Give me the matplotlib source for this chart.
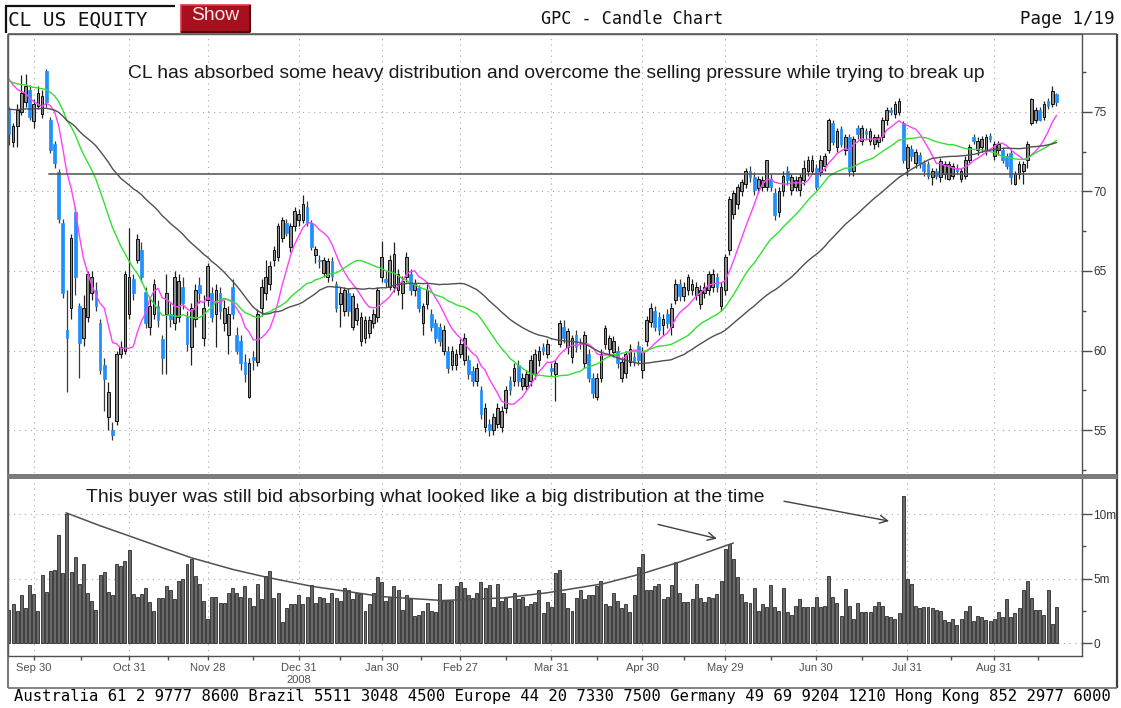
import numpy as np
import pandas as pd
import matplotlib
matplotlib.use("Agg")
import matplotlib.pyplot as plt
from matplotlib.lines import Line2D
from matplotlib.patches import Rectangle

# ---------------- data ----------------
opens = [75.1,73.1,74.1,75.0,75.6,76.4,74.4,75.4,74.9,77.6,
         74.5,73.0,71.2,68.0,61.3,62.7,68.7,62.8,60.8,62.1,
         63.6,63.8,61.7,59.1,55.8,55.0,55.6,59.8,60.0,62.3,
         64.5,65.7,66.3,63.7,61.5,62.3,62.8,60.7,62.3,62.3,
         61.7,62.1,64.0,62.1,60.2,62.0,64.1,60.8,63.2,63.6,
         62.3,63.6,61.7,61.0,64.0,61.0,60.6,59.3,57.1,59.6,
         59.3,62.7,63.6,64.2,65.7,65.9,67.1,68.0,66.5,67.8,
         68.2,68.2,69.0,68.0,66.0,65.7,64.9,64.6,65.6,64.2,
         62.9,62.5,63.6,61.5,61.9,60.6,60.8,61.1,61.7,62.1,
         64.6,64.5,64.0,64.0,63.8,63.6,64.6,64.8,63.8,63.9,
         61.7,62.9,62.3,61.7,61.5,60.0,60.0,59.1,59.1,59.8,
         59.4,59.4,58.7,58.1,57.5,55.2,55.4,55.0,55.4,55.2,
         56.4,58.1,58.1,59.1,57.8,57.8,58.1,58.5,59.4,60.2,
         59.8,58.9,58.5,60.4,61.5,60.2,59.6,61.0,60.5,59.2,
         59.8,58.3,57.1,58.3,60.4,60.1,59.9,60.0,58.3,58.6,
         59.3,59.6,60.3,58.8,60.6,61.8,62.5,62.1,61.6,62.3,
         61.5,63.2,64.2,63.4,63.8,63.8,63.5,62.9,63.6,63.8,
         64.0,64.6,62.8,63.8,66.3,68.6,69.2,70.0,70.5,71.3,
         70.9,70.2,70.3,70.3,70.8,69.9,68.7,70.0,71.3,70.1,
         70.3,70.1,70.7,71.3,71.3,71.5,71.2,71.6,72.6,74.3,
         72.8,73.9,72.6,73.4,71.3,74.0,73.2,73.8,73.2,73.0,
         73.1,73.4,74.5,75.1,74.9,75.0,74.3,71.5,72.7,71.8,
         72.3,71.8,71.7,70.9,71.3,70.9,71.1,70.8,71.0,71.5,
         70.8,71.0,72.0,73.4,72.6,72.8,72.6,73.5,72.2,72.6,
         72.6,72.2,72.4,70.5,71.1,71.3,72.0,74.3,74.5,75.1,
         74.7,75.7,75.5,76.1]

highs = [75.3,74.3,75.5,77.3,77.4,76.7,75.8,76.6,76.4,77.7,
         74.7,73.2,71.4,68.3,63.8,67.3,69.0,63.0,63.5,65.0,
         65.0,64.3,62.0,59.5,58.0,55.5,60.0,60.6,65.0,67.7,
         64.8,67.3,66.8,64.0,63.3,64.5,63.2,61.0,64.8,63.0,
         65.0,64.8,64.6,62.5,63.0,64.2,64.6,63.5,65.5,64.0,
         64.2,64.0,63.2,62.8,64.5,61.5,61.0,59.8,59.5,60.0,
         62.6,64.5,65.7,65.6,66.6,68.0,68.4,68.3,68.0,69.0,
         68.9,69.8,69.4,68.2,66.6,66.0,65.9,65.8,65.9,64.4,
         64.0,64.0,63.9,63.6,63.0,62.4,62.2,62.2,62.6,64.0,
         66.9,65.0,66.0,66.8,65.1,64.7,66.2,65.1,64.5,64.1,
         63.0,64.2,62.6,62.0,61.7,61.6,60.3,60.3,60.1,60.7,
         61.1,59.7,59.0,59.2,57.8,56.7,55.7,56.1,56.7,56.5,
         57.8,58.4,59.2,59.4,58.6,58.8,59.7,60.1,60.3,60.5,
         60.7,59.2,59.4,61.9,61.9,61.4,61.0,61.3,60.8,61.2,
         60.1,58.6,58.6,60.1,61.6,61.0,60.9,60.3,59.6,60.0,
         60.4,59.9,60.6,60.2,62.2,63.0,62.8,62.4,62.3,62.6,
         63.0,64.5,64.5,64.3,64.8,64.5,64.3,64.1,64.3,65.0,
         65.1,64.9,64.3,66.1,69.7,70.1,70.5,70.8,71.5,71.6,
         71.2,71.0,71.0,72.0,71.1,70.2,70.3,71.3,71.6,71.1,
         71.0,71.1,72.0,72.2,72.3,71.7,72.3,72.4,74.6,74.5,
         74.0,74.1,73.6,73.6,73.5,74.2,74.2,74.0,74.0,73.6,
         73.6,74.7,75.3,75.3,75.7,75.9,74.4,73.0,72.9,72.7,
         72.5,72.0,71.9,71.5,71.5,72.1,71.9,71.9,71.8,71.7,
         71.5,72.2,73.0,73.6,73.4,73.5,73.6,73.7,73.2,73.2,
         72.8,72.4,72.6,71.3,71.9,71.9,73.2,75.9,75.3,75.3,
         75.7,75.9,76.6,76.2]

lows = [72.9,72.8,72.8,74.8,75.3,74.5,74.0,75.2,74.6,75.3,
        72.4,71.5,68.0,63.3,57.4,62.0,63.5,58.3,60.3,61.8,
        63.2,62.5,58.5,56.2,55.0,54.4,55.3,59.5,59.8,62.0,
        63.2,65.5,64.3,61.4,61.0,62.0,61.5,58.5,58.5,61.5,
        61.3,61.8,62.6,60.0,59.1,61.5,63.0,60.3,62.8,61.8,
        60.2,62.0,61.2,59.8,62.0,59.8,58.8,58.0,57.0,58.8,
        59.0,62.2,63.2,63.8,65.3,65.6,66.8,67.2,66.2,67.5,
        67.8,68.0,67.8,66.3,65.5,65.2,64.6,64.3,64.4,62.4,
        61.5,62.2,62.2,61.3,61.6,60.3,60.5,60.8,61.4,61.8,
        64.3,64.0,63.8,63.7,63.5,62.6,64.3,63.5,63.4,62.4,
        61.0,62.6,61.2,60.5,60.3,59.7,58.6,58.8,58.8,59.5,
        59.1,58.2,57.8,57.8,55.7,54.9,54.6,54.7,55.1,54.9,
        56.1,57.2,57.8,57.8,57.5,57.5,57.8,58.2,59.0,59.7,
        59.5,58.4,56.8,60.2,60.5,59.8,59.2,59.9,60.1,58.9,
        58.0,57.0,56.9,58.0,60.1,59.8,59.6,58.9,58.0,58.3,
        59.0,59.0,59.1,58.3,60.3,61.5,61.2,61.0,61.0,61.4,
        61.0,62.9,63.1,63.1,63.5,63.5,63.2,62.6,63.3,63.5,
        63.7,63.7,62.5,63.5,66.0,68.3,68.9,69.7,70.2,70.6,
        69.8,69.9,70.0,70.0,70.0,68.2,68.4,69.7,70.4,69.8,
        70.0,69.7,70.4,71.0,71.1,70.1,71.0,71.3,72.4,72.9,
        72.5,72.8,72.3,71.0,71.0,73.3,72.9,73.3,72.9,72.7,
        72.8,73.2,74.2,74.8,74.6,74.8,71.8,71.0,71.9,71.5,
        71.5,71.0,70.8,70.4,70.8,70.6,70.8,70.7,70.8,71.1,
        70.6,70.8,71.8,73.0,72.3,72.5,72.3,73.1,72.0,72.3,
        71.8,71.4,70.5,70.4,70.8,70.5,71.5,74.2,74.3,74.4,
        74.5,75.2,75.3,75.4]

closes = [73.6,74.1,75.1,76.2,76.6,74.7,75.5,76.2,76.0,75.6,
          72.6,71.8,68.3,63.6,60.8,67.1,64.6,60.5,62.7,64.8,
          64.6,62.8,58.8,58.2,57.4,54.7,59.8,60.2,64.8,64.6,
          63.6,67.0,64.6,61.7,62.8,64.2,61.9,59.5,63.6,62.0,
          64.6,64.4,63.0,60.4,62.7,63.8,63.6,62.7,65.3,62.1,
          63.8,62.5,62.7,62.3,62.3,60.0,59.2,58.5,59.2,59.4,
          62.3,64.0,64.6,65.3,66.3,67.8,68.2,67.4,67.8,68.8,
          68.6,69.2,68.0,66.5,66.4,65.6,65.7,65.6,64.7,62.7,
          63.6,63.8,62.5,63.4,62.7,62.1,61.9,61.9,62.3,63.8,
          65.9,64.3,65.7,66.1,64.8,64.4,65.9,63.8,64.2,62.7,
          62.8,63.8,61.5,60.8,60.6,61.3,58.9,60.0,59.8,60.4,
          60.8,58.5,58.1,58.9,56.0,56.4,55.0,55.8,56.4,56.2,
          57.5,57.5,58.9,58.1,58.3,58.5,59.4,59.8,60.0,60.0,
          60.4,58.7,59.2,61.7,60.8,61.2,60.8,60.2,60.4,61.0,
          58.3,57.3,58.3,59.8,61.4,60.8,60.6,59.2,59.3,59.8,
          60.1,59.3,59.4,60.0,61.9,62.7,61.5,61.3,62.0,61.7,
          62.7,64.2,63.4,64.0,64.6,64.2,64.0,63.8,64.0,64.8,
          64.8,64.0,64.0,65.9,69.5,69.9,70.3,70.6,71.3,70.9,
          70.1,70.8,70.7,72.0,70.3,68.5,70.0,71.0,70.7,70.9,
          70.7,70.9,71.5,72.0,72.0,70.3,72.0,72.2,74.5,73.1,
          73.8,73.0,73.4,71.3,73.3,73.6,74.0,73.6,73.8,73.4,
          73.4,74.5,75.1,75.0,75.5,75.7,72.0,72.8,72.2,72.5,
          71.8,71.3,71.0,71.3,71.0,71.9,71.7,71.7,71.6,71.3,
          71.3,72.0,72.8,73.2,73.2,73.3,73.4,73.3,73.0,73.0,
          72.0,71.6,70.9,71.1,71.7,71.7,73.0,75.8,75.1,74.5,
          75.5,75.4,76.3,75.6]

volume_m = [2.6,3.0,2.5,3.7,2.7,4.5,3.8,2.5,5.3,4.0,
            5.6,5.7,8.4,5.4,10.0,5.5,6.7,4.6,6.1,3.9,
            3.3,2.6,5.3,5.5,4.0,3.7,6.1,6.0,6.4,7.2,
            3.8,3.6,3.8,4.3,3.2,2.5,3.5,3.5,4.4,4.1,
            3.4,4.8,5.0,6.1,6.5,5.2,4.6,3.3,1.9,3.6,
            3.6,3.1,3.1,3.9,4.3,3.9,3.6,4.4,3.5,2.9,
            4.6,3.4,5.2,5.6,3.5,3.9,
            1.6,2.7,3.0,3.0,3.7,3.0,3.6,4.5,3.1,3.6,
            3.5,3.1,3.9,3.5,3.3,4.3,4.1,3.4,3.9,3.8,
            2.5,3.0,3.9,5.1,4.7,3.3,3.6,4.4,4.1,2.6,
            3.7,3.4,2.1,2.2,2.5,3.1,2.5,2.4,4.6,3.3,
            3.3,3.3,4.4,4.7,4.3,3.7,3.5,3.9,4.7,4.3,
            4.5,2.8,4.6,3.3,3.5,2.7,3.9,3.4,3.6,2.9,
            3.0,3.2,4.1,2.3,3.2,
            2.8,5.4,5.7,3.9,2.7,2.5,3.5,4.1,3.4,3.7,
            3.7,4.4,4.8,3.0,2.9,3.9,3.3,2.7,3.0,2.4,
            3.7,5.9,6.9,4.1,4.1,4.4,4.6,3.4,3.6,4.5,
            6.3,3.9,3.2,3.2,3.4,4.6,3.5,3.2,3.6,3.5,
            3.8,4.8,7.3,7.7,6.5,5.1,3.8,3.2,3.1,4.3,
            2.5,3.0,2.8,4.5,2.8,2.5,4.3,2.4,2.2,2.9,
            3.4,2.8,2.8,2.8,
            3.6,2.8,2.9,5.2,3.6,3.1,2.1,4.2,2.9,1.9,
            3.1,2.4,2.4,2.4,2.9,3.2,2.9,2.1,2.0,1.9,
            2.3,11.4,5.0,4.6,2.9,2.7,2.8,2.8,2.7,2.6,
            2.5,1.8,1.6,1.9,1.4,1.9,2.5,2.9,1.7,2.1,
            2.0,1.8,1.7,1.9,2.4,2.0,3.4,2.0,2.3,2.7,
            4.1,4.8,3.5,2.6,2.6,2.2,4.1,1.5,2.8]

month_labels = ["Sep 30", "Oct 31", "Nov 28", "Dec 31", "Jan 30", "Feb 27",
                "Mar 31", "Apr 30", "May 29", "Jun 30", "Jul 31", "Aug 31"]
month_bar = [6, 29, 48, 70, 90, 109, 131, 153, 173, 195, 217, 238]
price_ticks = [55, 60, 65, 70, 75]
volume_ticks = [0, 5, 10]
volume_tick_labels = ["0", "5m", "10m"]
ma_windows = [9, 25, 50]
ma_start = [77.5, 77.1, 75.2]     # level of each average where the chart begins
support_level = 71.1
# hand-drawn arc over the volume peaks (bar index, volume in millions)
arc_bar = [13.8, 22, 30, 37, 44.2, 54.2, 62.3, 73.2, 90.3, 104.8, 119.3, 130, 143.5, 153.1, 162.1, 174.9]
arc_vol = [10.1, 9.1, 8.2, 7.4, 6.6, 5.7, 5.1, 4.4, 3.6, 3.3, 3.5, 3.9, 4.6, 5.4, 6.3, 7.75]
arrows = [((156.8, 9.2), (171.0, 8.1)), ((187.2, 11.0), (212.6, 9.46))]

top_note = "CL has absorbed some heavy distribution and overcome the selling pressure while trying to break up"
vol_note = "This buyer was still bid absorbing what looked like a big distribution at the time"
footer = "Australia 61 2 9777 8600 Brazil 5511 3048 4500 Europe 44 20 7330 7500 Germany 49 69 9204 1210 Hong Kong 852 2977 6000"

# ---------------- figure ----------------
W, H = 1121, 708
fig = plt.figure(figsize=(W / 100, H / 100), dpi=100)
fig.patch.set_facecolor("white")

def fx(x):
    return x / W

def fy(y):
    return 1 - y / H

def hline(x0, x1, y, color, lw):
    fig.add_artist(Line2D([fx(x0), fx(x1)], [fy(y), fy(y)], transform=fig.transFigure,
                          color=color, lw=lw, solid_capstyle="butt"))

def vline(x, y0, y1, color, lw):
    fig.add_artist(Line2D([fx(x), fx(x)], [fy(y0), fy(y1)], transform=fig.transFigure,
                          color=color, lw=lw, solid_capstyle="butt"))

n = len(closes)
idx = np.arange(n)
o = np.array(opens); c = np.array(closes); h = np.array(highs); l = np.array(lows)
vol = np.array(volume_m)

xmin, xmax = -0.24, 259.2

ax = fig.add_axes([fx(8), fy(473), fx(1082) - fx(8), fy(34) - fy(473)])
axv = fig.add_axes([fx(8), fy(656), fx(1082) - fx(8), fy(478) - fy(656)])

grid_kw = dict(color="#a8a8a8", lw=0.8, linestyle=(0, (1, 4)))
for a in (ax, axv):
    a.set_xlim(xmin, xmax)
    a.set_facecolor("white")
    for s in a.spines.values():
        s.set_color("#505050")
        s.set_linewidth(1.0)
    for mb in month_bar:
        a.axvline(mb, zorder=0, **grid_kw)
ax.spines["bottom"].set_visible(False)
axv.spines["top"].set_visible(False)

# ---- price panel ----
ax.set_ylim(52.3, 79.9)
for p in price_ticks:
    ax.axhline(p, zorder=0, **grid_kw)

up = c >= o
wick_col = np.where(up, "#202020", "#3a3a3a")
ax.vlines(idx, l, h, colors=wick_col, lw=0.9, zorder=2)
body_lo = np.minimum(o, c)
body_h = np.maximum(np.abs(c - o), 0.08)
ax.bar(idx[up], body_h[up], bottom=body_lo[up], width=0.66, color="#8e8e8e",
       edgecolor="#101010", linewidth=0.7, zorder=3)
ax.bar(idx[~up], body_h[~up], bottom=body_lo[~up], width=0.66, color="#1e90ff",
       edgecolor="#1e90ff", linewidth=0.5, zorder=3)

def moving_average(vals, w, start):
    sums = pd.Series(vals).rolling(w, min_periods=1).sum().to_numpy()
    have = np.minimum(np.arange(1, len(vals) + 1), w)
    return (sums + (w - have) * start) / w

ma_colors = ["#ff40ff", "#33e033", "#505050"]
for wnd, st, col in zip(ma_windows, ma_start, ma_colors):
    ax.plot(idx, moving_average(closes, wnd, st), color=col, lw=1.0, zorder=4)

ax.plot([9.7, xmax], [support_level, support_level], color="#505050", lw=1.1, zorder=4)

ax.yaxis.tick_right()
ax.set_yticks(price_ticks)
ax.set_yticks([52.5, 57.5, 62.5, 67.5, 72.5, 77.5], minor=True)
ax.tick_params(axis="y", which="major", direction="out", length=7, width=1, color="#505050",
               labelsize=8.5, labelcolor="#333333", pad=1)
ax.tick_params(axis="y", which="minor", direction="out", length=3, width=1, color="#505050")
ax.set_xticks([])
for t in ax.get_yticklabels():
    t.set_fontfamily("Liberation Sans")

# ---- volume panel ----
axv.set_ylim(-1.0, 12.8)
for v in volume_ticks:
    axv.axhline(v, zorder=0, **grid_kw)
axv.bar(idx, vol, width=0.72, color="#6a6a6a", edgecolor="#101010", linewidth=0.5, zorder=2)
axv.plot(arc_bar, arc_vol, color="#505050", lw=1.1, zorder=3)
for (x0, y0), (x1, y1) in arrows:
    axv.annotate("", xy=(x1, y1), xytext=(x0, y0),
                 arrowprops=dict(arrowstyle="->", color="#404040", lw=1.0,
                                 mutation_scale=14, shrinkA=0, shrinkB=0), zorder=4)
axv.yaxis.tick_right()
axv.set_yticks(volume_ticks)
axv.set_yticklabels(volume_tick_labels)
axv.set_yticks([2.5, 7.5], minor=True)
axv.tick_params(axis="y", which="major", direction="out", length=7, width=1, color="#505050",
                labelsize=8.5, labelcolor="#333333", pad=1)
axv.tick_params(axis="y", which="minor", direction="out", length=3, width=1, color="#505050")
axv.set_xticks(month_bar)
axv.set_xticklabels(month_labels)
mids = [(a + b) / 2 for a, b in zip(month_bar[:-1], month_bar[1:])] + [248.5]
axv.set_xticks(mids, minor=True)
axv.tick_params(axis="x", which="both", direction="out", length=3, width=1, color="#505050",
                labelsize=8, labelcolor="#505050", pad=2)
for t in axv.get_xticklabels() + axv.get_yticklabels():
    t.set_fontfamily("Liberation Sans")
axv.text(70, -0.135, "2008", transform=axv.get_xaxis_transform(), ha="center", va="center",
         fontsize=8, color="#505050", family="Liberation Sans")

# ---- frame ----
hline(8, 1117, 34, "#606060", 1.2)
vline(8, 34, 688, "#606060", 1.2)
vline(1117, 34, 688, "#404040", 1.6)
hline(8, 1117, 688, "#707070", 1.2)
hline(8, 1117, 475.5, "#7c7c7c", 3.6)

# ---- texts ----
fig.canvas.draw()
renderer = fig.canvas.get_renderer()

def fit(t, target_w):
    for _ in range(2):
        w = t.get_window_extent(renderer).width
        t.set_fontsize(t.get_fontsize() * target_w / w)

t1 = fig.text(fx(128), fy(74), top_note, ha="left", va="center", fontsize=12.5,
              family="Liberation Sans", color="#1a1a1a")
fit(t1, 850)
t2 = fig.text(fx(86), fy(497), vol_note, ha="left", va="center", fontsize=12.5,
              family="Liberation Sans", color="#1a1a1a")
fit(t2, 677)

# header
fig.add_artist(Rectangle((fx(5), fy(33)), fx(175) - fx(5), fy(5) - fy(33), transform=fig.transFigure,
                         facecolor="white", edgecolor="none"))
hline(5, 175, 5.5, "#101010", 1.6)
vline(5.5, 5, 33, "#101010", 1.6)
th = fig.text(fx(8), fy(20), "CL US EQUITY", ha="left", va="center", fontsize=14,
              family="DejaVu Sans Mono", color="#111111")
fit(th, 140)
fig.add_artist(Rectangle((fx(181), fy(32)), fx(250) - fx(181), fy(5) - fy(32), transform=fig.transFigure,
                         facecolor="#a8101e", edgecolor="#e03a48", lw=1.2))
hline(181, 250, 32, "#5a0008", 1.5)
vline(250, 5, 32, "#5a0008", 1.5)
ts = fig.text(fx(215.5), fy(16), "Show", ha="center", va="center", fontsize=13,
              family="Liberation Sans", color="#f4e8e8")
fit(ts, 48)
tg = fig.text(fx(632), fy(19), "GPC - Candle Chart", ha="center", va="center", fontsize=12,
              family="DejaVu Sans Mono", color="#111111")
fit(tg, 179)
tp = fig.text(fx(1115), fy(19), "Page 1/19", ha="right", va="center", fontsize=12,
              family="DejaVu Sans Mono", color="#111111")
fit(tp, 95)
tf = fig.text(fx(562), fy(697), footer, ha="center", va="center", fontsize=10,
              family="DejaVu Sans Mono", color="#000000")
fit(tf, 1096)

fig.savefig("out.png", dpi=100, facecolor="white")
